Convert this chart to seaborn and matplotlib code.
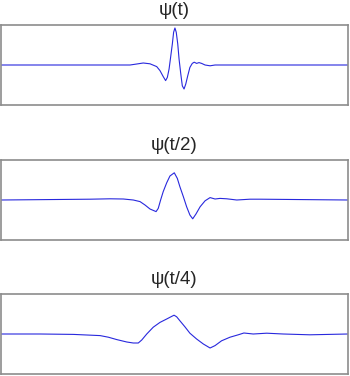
import matplotlib
matplotlib.use("Agg")
import matplotlib.pyplot as plt
import seaborn as sns

# Panel titles
titles = ["\u03c8(t)", "\u03c8(t/2)", "\u03c8(t/4)"]

# psi(t)
t1 = [-8.0, -2.05, -1.74, -1.44, -1.13, -0.82, -0.67, -0.52, -0.41, -0.33, -0.25, -0.18, -0.10, -0.04,
      0.02, 0.08, 0.15, 0.21, 0.29, 0.36, 0.44, 0.52, 0.61, 0.71, 0.82, 0.91, 1.02, 1.13, 1.25, 1.41,
      1.64, 1.87, 8.0]
v1 = [0.0, 0.0, 0.025, 0.05, 0.03, -0.04, -0.14, -0.29, -0.39, -0.31, -0.10, 0.19, 0.525, 0.82,
      0.925, 0.82, 0.525, 0.15, -0.225, -0.52, -0.60, -0.475, -0.27, -0.06, 0.04, 0.07, 0.04, 0.06, 0.04, 0.0,
      -0.02, 0.0, 0.0]

# psi(t/2)
t2 = [-8.0, -3.89, -2.97, -2.36, -1.90, -1.59, -1.36, -1.13, -0.85, -0.75, -0.64, -0.52, -0.36, -0.21,
      -0.01, 0.13, 0.25, 0.41, 0.56, 0.71, 0.84, 0.99, 1.18, 1.41, 1.64, 1.87, 2.10, 2.41, 2.87, 3.48,
      3.94, 8.0]
v2 = [0.0, 0.02, 0.03, 0.025, 0.0, -0.04, -0.125, -0.225, -0.29, -0.21, 0.0, 0.21, 0.43, 0.60,
      0.68, 0.54, 0.33, 0.08, -0.17, -0.375, -0.47, -0.35, -0.17, -0.02, 0.06, 0.025, 0.04, 0.03, 0.0, 0.02,
      0.02, 0.0]

# psi(t/4)
t3 = [-8.0, -6.20, -4.66, -3.43, -3.05, -2.66, -2.20, -1.90, -1.67, -1.51, -1.28, -0.98, -0.67, -0.36,
      -0.13, -0.02, 0.10, 0.25, 0.48, 0.71, 1.02, 1.33, 1.64, 1.87, 2.17, 2.56, 2.94, 3.20, 3.63, 4.25,
      5.01, 6.24, 8.0]
v3 = [0.0, 0.0, -0.01, -0.04, -0.08, -0.14, -0.20, -0.225, -0.225, -0.15, 0.0, 0.17, 0.29, 0.375,
      0.44, 0.47, 0.43, 0.33, 0.18, 0.02, -0.125, -0.25, -0.35, -0.29, -0.17, -0.08, -0.02, 0.025, 0.0, 0.02,
      0.0, -0.02, 0.0]

sns.set_style("white")
plt.rcParams['font.family'] = ['Liberation Sans', 'DejaVu Sans']

fig = plt.figure(figsize=(3.5, 3.76), dpi=100)
W, H = 350.0, 376.0
tops = [25, 160, 294]
series = [(t1, v1), (t2, v2), (t3, v3)]

for top, title, (tt, vv) in zip(tops, titles, series):
    ax = fig.add_axes([1.0 / W, 1 - (top + 80) / H, 347.0 / W, 80.0 / H])
    sns.lineplot(x=tt, y=vv, ax=ax, color="#2828dd", linewidth=0.8)
    ax.set_xlim(-8, 8)
    ax.set_ylim(-1, 1)
    ax.set_xticks([])
    ax.set_yticks([])
    ax.set_xlabel("")
    ax.set_ylabel("")
    for s in ax.spines.values():
        s.set_color("#8c8c8c")
        s.set_linewidth(1.2)
    ax.set_title(title, fontsize=13.5, pad=7.5)

fig.savefig("out.png", dpi=100)
